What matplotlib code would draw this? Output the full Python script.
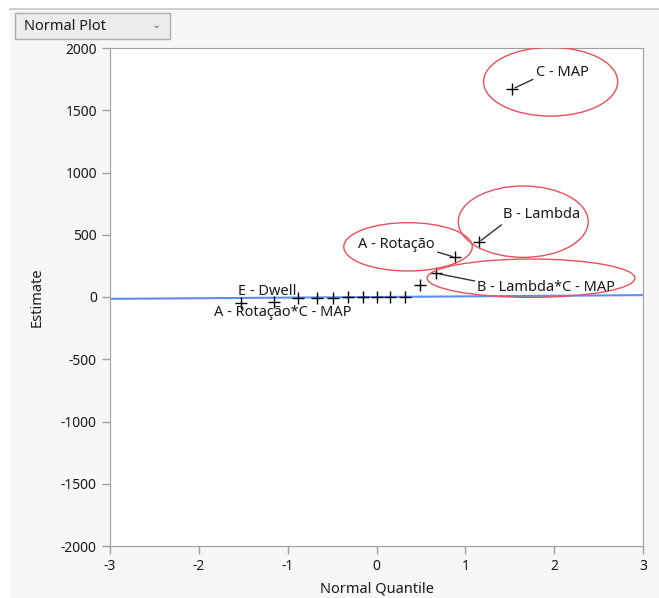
import matplotlib.pyplot as plt
from matplotlib.patches import Ellipse, Rectangle

plt.rcParams['font.family'] = ['Noto Sans', 'DejaVu Sans']
plt.rcParams['axes.unicode_minus'] = False

# normal quantiles and effect estimates
quantiles = [-1.53, -1.15, -0.887, -0.674, -0.489, -0.319, -0.157, 0.0,
             0.157, 0.319, 0.489, 0.674, 0.887, 1.15, 1.53]
estimates = [-50, -37, -10, -8, -6, -3, 0, 1, 2, 3, 94, 190, 318, 440, 1670]

# labelled effects: (label, point index, text x, text y, relpos of leader)
labels = [
    ("C - MAP", 14, 2.09, 1807, (0.0, 0.1)),
    ("B - Lambda", 13, 1.861, 662, (0.05, 0.1)),
    ("A - Rotação", 12, 0.226, 422, (1.0, 0.05)),
    ("B - Lambda*C - MAP", 11, 1.912, 76, (0.0, 0.9)),
    ("E - Dwell", 1, -1.235, 48, None),
    ("A - Rotação*C - MAP", 0, -1.054, -124, None),
]

# red ellipses around the important effects: centre x, centre y, width, height
ellipses = [
    (1.96, 1729, 1.51, 552),
    (1.652, 605, 1.463, 573),
    (0.355, 403, 1.447, 388),
    (1.74, 151, 2.338, 308),
]

# reference line (Lenth PSE slope)
line_x = [-3, 3]
line_y = [-15, 15]

fig = plt.figure(figsize=(6.59, 5.98), dpi=100, facecolor='#f7f7f7')

# white margins at top and left, and panel border
fig.patches.append(Rectangle((0, 1 - 9 / 598), 1, 9 / 598, transform=fig.transFigure,
                             facecolor='white', edgecolor='none', zorder=0))
fig.patches.append(Rectangle((0, 0), 10 / 659, 1, transform=fig.transFigure,
                             facecolor='white', edgecolor='none', zorder=0))
fig.add_artist(plt.Line2D([10 / 659, 1], [1 - 9 / 598, 1 - 9 / 598], transform=fig.transFigure,
                          color='#d0d0d0', lw=1.5))

ax = fig.add_axes([110 / 659, 52 / 598, 533 / 659, 498 / 598])
ax.set_facecolor('white')

ax.plot(line_x, line_y, color='#5b8ff0', lw=1.5, zorder=2)
ax.plot(quantiles, estimates, linestyle='none', marker='+', color='black',
        markersize=8, markeredgewidth=1, zorder=3)

for cx, cy, w, h in ellipses:
    ax.add_patch(Ellipse((cx, cy), w, h, facecolor='none', edgecolor='#e8505a',
                         lw=1, zorder=4))

for text, i, tx, ty, rel in labels:
    if rel is None:
        ax.text(tx, ty, text, ha='center', va='center', fontsize=10.5, color='#1a1a1a', zorder=5)
    else:
        ax.annotate(text, xy=(quantiles[i], estimates[i]), xytext=(tx, ty),
                    ha='center', va='center', fontsize=10.5, color='#1a1a1a', zorder=5,
                    arrowprops=dict(arrowstyle='-', color='#333333', lw=1,
                                    shrinkA=0, shrinkB=2, relpos=rel))

ax.set_xlim(-3, 3)
ax.set_ylim(-2000, 2000)
ax.set_xticks(range(-3, 4))
ax.set_yticks(range(-2000, 2001, 500))
for s in ax.spines.values():
    s.set_color('#a0a0a0')
ax.tick_params(colors='#a0a0a0', labelcolor='#1a1a1a', labelsize=10, length=6, width=1)
ax.set_xlabel('Normal Quantile', fontsize=10.5, color='#1a1a1a', labelpad=5)
ax.set_ylabel('Estimate', fontsize=10.5, color='#1a1a1a', labelpad=12)

# "Normal Plot" dropdown
fig.patches.append(Rectangle((15 / 659, 1 - 39 / 598), 155 / 659, 26 / 598,
                             transform=fig.transFigure, facecolor='#ececec',
                             edgecolor='#adadad', lw=1))
fig.text(24 / 659, 1 - 26 / 598, 'Normal Plot', fontsize=10.5, va='center', color='#1a1a1a')
fig.text(156 / 659, 1 - 25 / 598, '⌄', fontsize=8, va='center', ha='center', color='#666666',
         family=['DejaVu Sans'])

fig.savefig('out.png', dpi=100, facecolor=fig.get_facecolor())
